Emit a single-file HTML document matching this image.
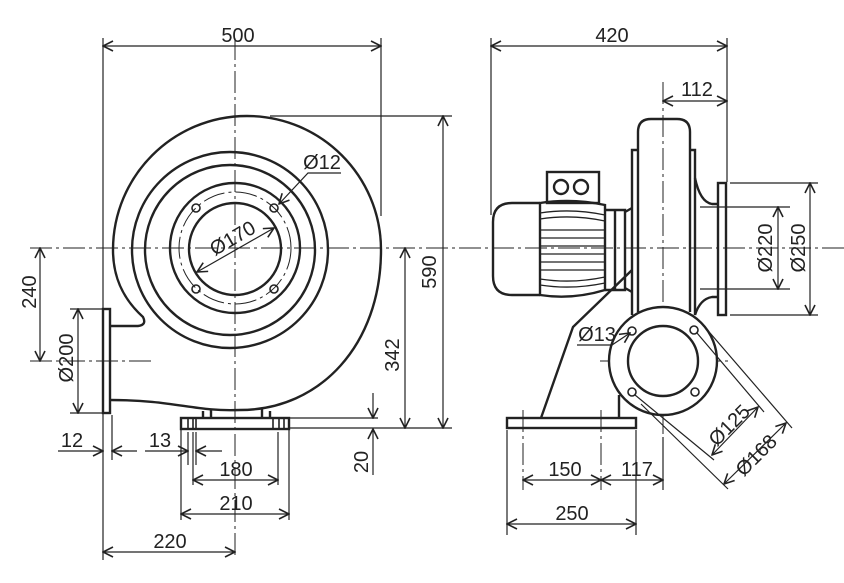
<!DOCTYPE html>
<html><head><meta charset="utf-8"><style>
html,body{margin:0;padding:0;background:#fff;}
svg{display:block;}
text{font-family:"Liberation Sans",Arial,sans-serif;font-size:20px;fill:#222;}
</style></head><body>
<svg width="844" height="583" viewBox="0 0 844 583" xmlns="http://www.w3.org/2000/svg">
<defs>
<marker id="a" viewBox="0 0 12 12" refX="11" refY="6" markerWidth="12" markerHeight="12" markerUnits="userSpaceOnUse" orient="auto-start-reverse">
<path d="M1,1 L11,6 L1,11" fill="none" stroke="#222" stroke-width="1.6"/>
</marker>
</defs>
<g fill="none" stroke="#222">
<g stroke-width="1" stroke-dasharray="22,4,3,4">
<line x1="30" y1="248" x2="844" y2="248"/>
<line x1="235" y1="38" x2="235" y2="555"/>
<line x1="30" y1="361" x2="155" y2="361"/>
<line x1="663" y1="82" x2="663" y2="490"/>
<line x1="600" y1="361" x2="730" y2="361"/>
<line x1="523" y1="410" x2="523" y2="490"/>
<line x1="601" y1="410" x2="601" y2="490"/>
<circle cx="235" cy="248" r="56"/>
<circle cx="663" cy="361" r="44"/>
</g>

<g stroke-width="2.4">
<path d="M110,326 L138,326 Q147,325 143,317 C122,298 113,276 113,250 C113,176 173,116 247,116 C321,116 381,176 381,250 C381,345 320,410 240,410 C195,412 175,400 110,400"/>
<circle cx="230" cy="250" r="98"/>
<circle cx="230" cy="250" r="85"/>
<circle cx="235" cy="248" r="65"/>
<circle cx="235" cy="249" r="46"/>
<rect x="103" y="309" width="7" height="104"/>
<rect x="181" y="418" width="108" height="11"/>
<path d="M203,411 V418 M211,409 V418 M262,409 V418 M270,411 V418"/>
</g>
<g stroke-width="1.6">
<circle cx="196" cy="208" r="4"/><circle cx="274" cy="208" r="4"/>
<circle cx="196" cy="289" r="4"/><circle cx="274" cy="289" r="4"/>
<path d="M188,418 V429 M193,418 V429 M196,418 V429 M273,418 V429 M279,418 V429 M284,418 V429"/>
</g>
<g stroke-width="1.2">
<line x1="103" y1="38" x2="103" y2="560"/>
<line x1="381" y1="38" x2="381" y2="216"/>
<line x1="270" y1="116" x2="452" y2="116"/>
<line x1="290" y1="428" x2="452" y2="428"/>
<line x1="290" y1="418" x2="378" y2="418"/>
<line x1="70" y1="309" x2="103" y2="309"/>
<line x1="70" y1="413" x2="103" y2="413"/>
<line x1="112" y1="415" x2="112" y2="460"/>
<line x1="181" y1="430" x2="181" y2="520"/>
<line x1="289" y1="430" x2="289" y2="520"/>
<line x1="188" y1="432" x2="188" y2="465"/>
<line x1="193" y1="432" x2="193" y2="485"/>
<line x1="196" y1="432" x2="196" y2="465"/>
<line x1="278" y1="432" x2="278" y2="485"/>
<line x1="103" y1="46" x2="381" y2="46" marker-start="url(#a)" marker-end="url(#a)"/>
<line x1="443" y1="116" x2="443" y2="428" marker-start="url(#a)" marker-end="url(#a)"/>
<line x1="405" y1="248" x2="405" y2="428" marker-start="url(#a)" marker-end="url(#a)"/>
<line x1="373" y1="393" x2="373" y2="418" marker-end="url(#a)"/>
<line x1="373" y1="475" x2="373" y2="429" marker-end="url(#a)"/>
<line x1="40" y1="248" x2="40" y2="361" marker-start="url(#a)" marker-end="url(#a)"/>
<line x1="78" y1="309" x2="78" y2="413" marker-start="url(#a)" marker-end="url(#a)"/>
<line x1="58" y1="451" x2="103" y2="451" marker-end="url(#a)"/>
<line x1="137" y1="451" x2="112" y2="451" marker-end="url(#a)"/>
<line x1="145" y1="451" x2="188" y2="451" marker-end="url(#a)"/>
<line x1="222" y1="451" x2="196" y2="451" marker-end="url(#a)"/>
<line x1="193" y1="480" x2="278" y2="480" marker-start="url(#a)" marker-end="url(#a)"/>
<line x1="181" y1="514" x2="289" y2="514" marker-start="url(#a)" marker-end="url(#a)"/>
<line x1="103" y1="552" x2="235" y2="552" marker-start="url(#a)" marker-end="url(#a)"/>
<line x1="197" y1="272" x2="274" y2="228" marker-start="url(#a)" marker-end="url(#a)"/>
<path d="M341,173 H308 L279,204" marker-end="url(#a)"/>
</g>

<g stroke-width="2.4">
<path d="M638,312 V132 Q638,119 651,119 H677 Q690,119 690,132 V312"/>
<path d="M638,150 H632 V315 M690,150 H695 V315"/>
<rect x="718" y="183" width="8" height="132"/>
<path d="M695,178 Q700,202 712,204 H718 M695,315 Q700,299 712,297 H718"/>
<path d="M540,203 H512 Q493,203 493,222 V276 Q493,295 512,295 H540"/>
<path d="M540,203 Q572,198 605,205 V290 Q572,300 540,295 Z"/>
<path d="M605,210 H625 V290 H605 M615,210 V290 M625,212 L632,208 M625,288 L632,292"/>
<rect x="547" y="172" width="52" height="31"/>
<circle cx="561" cy="187" r="7"/><circle cx="581" cy="187" r="7"/>
<path d="M632,270 L573,327 L541,418"/>
<path d="M619,395 V418"/>
<rect x="507" y="418" width="129" height="10"/>
<circle cx="663" cy="361" r="54" fill="#fff"/>
<circle cx="663" cy="361" r="35"/>
</g>
<g stroke-width="1.3">
<path d="M540,213 Q572,208 605,215 M540,219 Q572,214 605,221 M540,285 Q572,290 605,283 M540,279 Q572,284 605,277"/>
<path d="M540,230 H605 M540,238 H605 M540,246 H605 M540,254 H605 M540,262 H605 M540,270 H605"/>
</g>
<g stroke-width="1.6">
<circle cx="632" cy="331" r="4"/><circle cx="694" cy="330" r="4"/>
<circle cx="632" cy="392" r="4"/><circle cx="695" cy="392" r="4"/>
</g>
<g stroke-width="1.2">
<line x1="491" y1="38" x2="491" y2="215"/>
<line x1="727" y1="38" x2="727" y2="182"/>
<line x1="491" y1="46" x2="727" y2="46" marker-start="url(#a)" marker-end="url(#a)"/>
<line x1="663" y1="101" x2="727" y2="101" marker-start="url(#a)" marker-end="url(#a)"/>
<line x1="700" y1="207" x2="790" y2="207"/>
<line x1="700" y1="289" x2="790" y2="289"/>
<line x1="730" y1="183" x2="818" y2="183"/>
<line x1="730" y1="315" x2="818" y2="315"/>
<line x1="778" y1="207" x2="778" y2="289" marker-start="url(#a)" marker-end="url(#a)"/>
<line x1="810" y1="183" x2="810" y2="315" marker-start="url(#a)" marker-end="url(#a)"/>
<path d="M577,345 H612 L630,333" marker-end="url(#a)"/>
<line x1="697" y1="333" x2="764" y2="412"/>
<line x1="635" y1="395" x2="714" y2="460"/>
<line x1="704" y1="326" x2="792" y2="428"/>
<line x1="641" y1="404" x2="728" y2="489"/>
<line x1="712" y1="455" x2="758" y2="407" marker-start="url(#a)" marker-end="url(#a)"/>
<line x1="724" y1="484" x2="786" y2="423" marker-start="url(#a)" marker-end="url(#a)"/>
<line x1="507" y1="430" x2="507" y2="535"/>
<line x1="636" y1="430" x2="636" y2="535"/>
<line x1="663" y1="437" x2="663" y2="490"/>
<line x1="523" y1="480" x2="601" y2="480" marker-start="url(#a)" marker-end="url(#a)"/>
<line x1="601" y1="480" x2="663" y2="480" marker-start="url(#a)" marker-end="url(#a)"/>
<line x1="507" y1="524" x2="636" y2="524" marker-start="url(#a)" marker-end="url(#a)"/>
</g>
</g>

<g>
<text x="238" y="42" text-anchor="middle">500</text>
<text x="612" y="42" text-anchor="middle">420</text>
<text x="697" y="96" text-anchor="middle">112</text>
<text x="322" y="169" text-anchor="middle">Ø12</text>
<text transform="translate(236,244) rotate(-30)" text-anchor="middle">Ø170</text>
<text transform="translate(436,272) rotate(-90)" text-anchor="middle">590</text>
<text transform="translate(399,355) rotate(-90)" text-anchor="middle">342</text>
<text transform="translate(368,462) rotate(-90)" text-anchor="middle">20</text>
<text transform="translate(36,292) rotate(-90)" text-anchor="middle">240</text>
<text transform="translate(73,358) rotate(-90)" text-anchor="middle">Ø200</text>
<text x="72" y="447" text-anchor="middle">12</text>
<text x="160" y="447" text-anchor="middle">13</text>
<text x="236" y="476" text-anchor="middle">180</text>
<text x="236" y="510" text-anchor="middle">210</text>
<text x="170" y="548" text-anchor="middle">220</text>
<text transform="translate(772,248) rotate(-90)" text-anchor="middle">Ø220</text>
<text transform="translate(805,248) rotate(-90)" text-anchor="middle">Ø250</text>
<text x="597" y="341" text-anchor="middle">Ø13</text>
<text transform="translate(734,430) rotate(-45)" text-anchor="middle">Ø125</text>
<text transform="translate(761,460) rotate(-45)" text-anchor="middle">Ø168</text>
<text x="565" y="476" text-anchor="middle">150</text>
<text x="637" y="476" text-anchor="middle">117</text>
<text x="572" y="520" text-anchor="middle">250</text>
</g>
</svg>
</body></html>
